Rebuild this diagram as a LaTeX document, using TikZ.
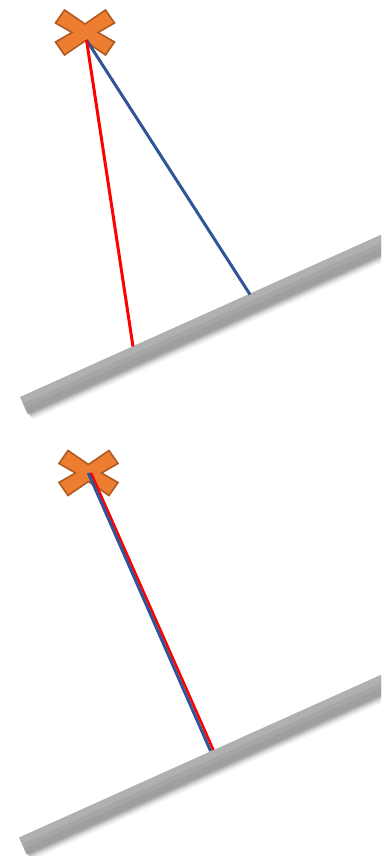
\documentclass[tikz,border=0pt]{standalone}
\definecolor{xorange}{HTML}{ED7D31}
\definecolor{xborder}{HTML}{AE5A21}
\definecolor{lblue}{HTML}{2F5597}
\definecolor{lred}{HTML}{FF0000}
\definecolor{barg}{HTML}{A6A6A6}
\tikzset{
  xmark/.pic={
    \draw[fill=xorange,draw=xborder,line width=1.6pt,line join=miter]
      (-20.5,-22.5) -- (0,-8.5) -- (20.5,-22.5) -- (29.5,-9.5) -- (13,0) -- (29.5,9.5)
      -- (20.5,22.5) -- (0,8.5) -- (-20.5,22.5) -- (-29.5,9.5) -- (-13,0) -- (-29.5,-9.5) -- cycle;
  },
  rodbar/.pic={
    \fill[black,opacity=0.04] (2.5,5) rectangle (440,26);
    \fill[black,opacity=0.06] (2,4) rectangle (440,24.5);
    \fill[black,opacity=0.08] (1.5,3) rectangle (440,23);
    \fill[black,opacity=0.1] (1,2) rectangle (440,21.5);
    \fill[black,opacity=0.12] (0.5,1) rectangle (440,20);
    \fill[barg] (0,0) rectangle (440,18.5);
    \fill[white,opacity=0.12] (0,0) rectangle (440,7);
    \fill[black,opacity=0.04] (0,12) rectangle (440,18.5);
  },
  ray/.style={line width=3pt},
}
\begin{document}
\begin{tikzpicture}[x=1pt,y=-1pt]
\useasboundingbox (0,0) rectangle (381,856);
\clip (0,0) rectangle (381,856);
% top panel
\pic[rotate=24.2] at (20,397) {rodbar};
\pic at (85,32.5) {xmark};
\coordinate (s1) at (86.5,40);
\coordinate (r1) at (133,346.5);
\coordinate (b1) at (250,294.5);
\draw[ray,lblue] (s1) -- (b1);
\draw[ray,lred] (s1) -- (r1);
% bottom panel
\pic[rotate=24.2] at (19,837.5) {rodbar};
\pic at (88.5,473) {xmark};
\coordinate (s2b) at (88.3,473);
\coordinate (s2r) at (91,473);
\coordinate (e2b) at (210.6,751);
\coordinate (e2r) at (213.4,750);
\draw[ray,lred,line width=2.6pt] (s2r) -- (e2r);
\draw[ray,lblue,line width=3pt] (s2b) -- (e2b);
\end{tikzpicture}
\end{document}
